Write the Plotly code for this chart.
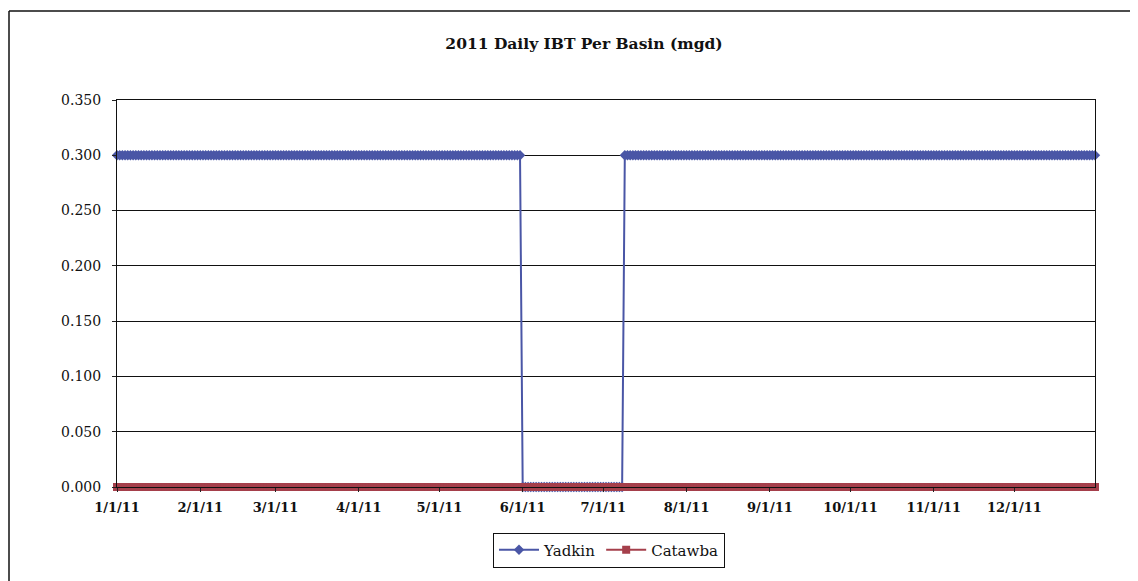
import pandas as pd
import plotly.graph_objects as go

title = "2011 Daily IBT Per Basin (mgd)"
series_names = ["Yadkin", "Catawba"]
# run-length encoded daily values: (first day, last day, value)
yadkin_runs = [("2011-01-01", "2011-05-31", 0.300),
               ("2011-06-01", "2011-07-08", 0.000),
               ("2011-07-09", "2011-12-31", 0.300)]
catawba_runs = [("2011-01-01", "2011-12-31", 0.000)]
tick_dates = ["2011-01-01", "2011-02-01", "2011-03-01", "2011-04-01", "2011-05-01", "2011-06-01",
              "2011-07-01", "2011-08-01", "2011-09-01", "2011-10-01", "2011-11-01", "2011-12-01"]
tick_labels = ["1/1/11", "2/1/11", "3/1/11", "4/1/11", "5/1/11", "6/1/11",
               "7/1/11", "8/1/11", "9/1/11", "10/1/11", "11/1/11", "12/1/11"]
y_ticks = [0.000, 0.050, 0.100, 0.150, 0.200, 0.250, 0.300, 0.350]


def expand(runs):
    xs, ys = [], []
    for start, end, val in runs:
        d = pd.date_range(start, end, freq="D")
        xs.extend(d)
        ys.extend([val] * len(d))
    return xs, ys


yx, yy = expand(yadkin_runs)
cx, cy = expand(catawba_runs)

FONT = "DejaVu Serif"
blue = "#4A56A6"
red = "#A53F4B"

fig = go.Figure()
fig.add_trace(go.Scatter(x=yx, y=yy, name=series_names[0], mode="lines+markers",
                         line=dict(color=blue, width=2),
                         marker=dict(symbol="diamond", size=8, color=blue),
                         cliponaxis=False))
fig.add_trace(go.Scatter(x=cx, y=cy, name=series_names[1], mode="lines+markers",
                         line=dict(color=red, width=2),
                         marker=dict(symbol="square", size=8, color=red),
                         cliponaxis=False))

OFF = 8  # page body margin
W, H = 1138 - OFF, 581 - OFF
L, R, T, B = 117 - OFF, 1095 - OFF, 100 - OFF, 487 - OFF
pw, ph = R - L, B - T

def px(x):
    return (x - OFF - L) / pw

def py(y):
    return (B - (y - OFF)) / ph

fig.update_layout(
    width=W, height=H,
    margin=dict(l=L, r=W - R, t=T, b=H - B),
    paper_bgcolor="white", plot_bgcolor="white",
    font=dict(family=FONT, color="#111111", size=12),
    title=dict(text="<b>" + title + "</b>", x=px(584), xanchor="center", xref="paper",
               y=1 - (44 - OFF) / H, yanchor="middle", font=dict(family=FONT, size=15.5, color="#111111")),
    showlegend=True,
    legend=dict(orientation="h", x=px(609), xanchor="center", y=py(550), yanchor="middle",
                bordercolor="#111111", borderwidth=1, bgcolor="white",
                font=dict(family=FONT, size=15, color="#111111"),
                itemwidth=40, tracegroupgap=0),
    xaxis=dict(type="date", range=["2011-01-01", "2011-12-31"],
               tickmode="array", tickvals=tick_dates, ticktext=tick_labels,
               ticks="outside", ticklen=4, tickcolor="#222222", ticklabelstandoff=4,
               showgrid=False, zeroline=False,
               showline=True, linecolor="#111111", linewidth=1, mirror=True,
               tickfont=dict(family=FONT, size=13, color="#111111", weight="bold")),
    yaxis=dict(range=[0, 0.35], tickvals=y_ticks, tickformat=".3f",
               ticks="outside", ticklen=4, tickcolor="#222222", ticklabelstandoff=8,
               showgrid=True, gridcolor="#111111", gridwidth=1, zeroline=False,
               showline=True, linecolor="#111111", linewidth=1, mirror=True,
               tickfont=dict(family=FONT, size=14, color="#111111")),
    shapes=[
        dict(type="line", xref="paper", yref="paper",
             x0=px(OFF + 1), x1=px(1140), y0=py(11), y1=py(11),
             line=dict(color="#111111", width=1.5)),
        dict(type="line", xref="paper", yref="paper",
             x0=px(OFF + 1), x1=px(OFF + 1), y0=py(11), y1=py(585),
             line=dict(color="#111111", width=1.5)),
    ],
)

fig.write_html("out.html")
